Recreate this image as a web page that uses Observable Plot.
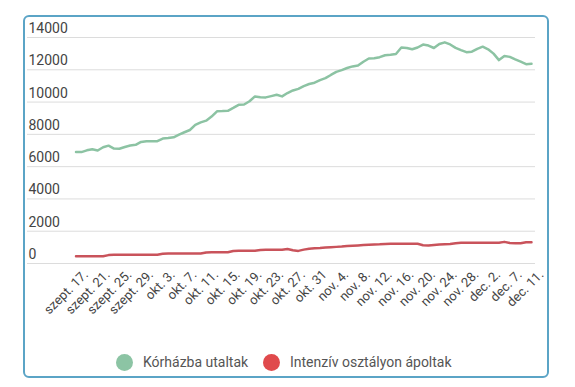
<!DOCTYPE html>
<html>
<head>
<meta charset="utf-8">
<script src="https://cdn.jsdelivr.net/npm/d3@7"></script>
<script src="https://cdn.jsdelivr.net/npm/@observablehq/plot@0.6"></script>
<style>
  html, body { margin: 0; padding: 0; background: #fff; width: 575px; height: 387px; overflow: hidden; font-family: Roboto, "Noto Sans", sans-serif; }
  #frame { position: absolute; left: 23px; top: 15px; width: 522px; height: 359px; border: 2px solid #5ba4c6; border-radius: 6px; box-sizing: content-box; }
  #chart { position: absolute; left: 0; top: 0; }
  #legend { position: absolute; left: 0; top: 350px; width: 575px; height: 24px; font-size: 14px; color: #555; }
  .item { position: absolute; top: 0; display: flex; align-items: center; height: 24px; }
  .dot { width: 17px; height: 17px; border-radius: 50%; margin-right: 10px; }
</style>
</head>
<body>
<div id="frame"></div>
<div id="chart"></div>
<div id="legend"></div>
<script>
// Tick labels (every 4th observation)
const tickLabels = ["szept. 17.", "szept. 21.", "szept. 25.", "szept. 29.", "okt. 3.", "okt. 7.", "okt. 11.", "okt. 15.", "okt. 19.", "okt. 23.", "okt. 27.", "okt. 31", "nov. 4.", "nov. 8.", "nov. 12.", "nov. 16.", "nov. 20.", "nov. 24.", "nov. 28.", "dec. 2.", "dec. 7.", "dec. 11."];

const seriesNames = ["Kórházba utaltak", "Intenzív osztályon ápoltak"];
const seriesColors = ["#8cc3a3", "#c9535b"];
const legendColors = ["#8cc4a4", "#e04a4c"];

// Kórházba utaltak (hospitalised)
const hospital = [6900, 6900, 7010, 7080, 7000, 7200, 7300, 7120, 7110, 7220,
  7310, 7350, 7530, 7570, 7570, 7580, 7740, 7770, 7820, 7980,
  8130, 8270, 8590, 8740, 8850, 9100, 9430, 9440, 9460, 9640,
  9830, 9850, 10050, 10350, 10300, 10290, 10370, 10450, 10350, 10560,
  10720, 10820, 10990, 11120, 11200, 11360, 11480, 11680, 11870, 11980,
  12110, 12210, 12260, 12500, 12700, 12710, 12780, 12900, 12930, 12980,
  13380, 13350, 13270, 13380, 13560, 13500, 13350, 13600, 13700, 13570,
  13360, 13220, 13090, 13120, 13300, 13430, 13270, 13000, 12600, 12850,
  12800, 12640, 12500, 12350, 12370];

// Intenzív osztályon ápoltak (ICU)
const icu = [450, 450, 450, 450, 450, 450, 520, 540, 540, 540,
  540, 540, 540, 540, 540, 540, 600, 620, 620, 620,
  620, 620, 620, 620, 680, 700, 700, 700, 700, 780,
  790, 790, 790, 790, 840, 850, 850, 850, 850, 900,
  820, 780, 860, 910, 940, 960, 990, 1010, 1030, 1050,
  1080, 1100, 1120, 1140, 1160, 1180, 1190, 1210, 1220, 1220,
  1220, 1220, 1220, 1220, 1130, 1120, 1150, 1180, 1200, 1210,
  1260, 1280, 1280, 1280, 1280, 1280, 1280, 1280, 1280, 1340,
  1270, 1260, 1260, 1310, 1320];

const yTicks = [0, 2000, 4000, 6000, 8000, 10000, 12000, 14000];

const rows = [];
hospital.forEach((v, i) => rows.push({i, v, s: seriesNames[0]}));
icu.forEach((v, i) => rows.push({i, v, s: seriesNames[1]}));

const xTicks = tickLabels.map((_, k) => k * 4);

const chart = Plot.plot({
  width: 575,
  height: 340,
  marginLeft: 27,
  marginRight: 40,
  marginTop: 37,
  marginBottom: 77,
  style: {fontFamily: "Roboto, sans-serif", background: "transparent"},
  x: {domain: [0, hospital.length - 1], insetLeft: 48.5, insetRight: 4},
  y: {domain: [0, 14000]},
  color: {domain: seriesNames, range: seriesColors},
  marks: [
    Plot.gridY(yTicks, {stroke: "#dcdcdc", strokeOpacity: 1, strokeWidth: 1}),
    Plot.axisY(yTicks, {anchor: "left", tickSize: 0, tickPadding: 0, textAnchor: "start", dx: 1, dy: -9, fontSize: 14, fill: "#444", tickFormat: d => String(d), label: null}),
    Plot.axisX(xTicks, {anchor: "bottom", tickSize: 0, tickRotate: -45, tickFormat: d => tickLabels[d / 4], fontSize: 13, fill: "#444", dx: 10, dy: -3, label: null}),
    Plot.line(rows, {x: "i", y: "v", z: "s", stroke: "s", strokeWidth: 2.5, curve: "linear"})
  ]
});
document.getElementById("chart").appendChild(chart);

const legend = document.getElementById("legend");
const positions = [116, 263];
seriesNames.forEach((n, k) => {
  const it = document.createElement("div");
  it.className = "item";
  it.style.left = positions[k] + "px";
  const d = document.createElement("span");
  d.className = "dot";
  d.style.background = legendColors[k];
  const t = document.createElement("span");
  t.textContent = n;
  it.appendChild(d); it.appendChild(t);
  legend.appendChild(it);
});
</script>
</body>
</html>
